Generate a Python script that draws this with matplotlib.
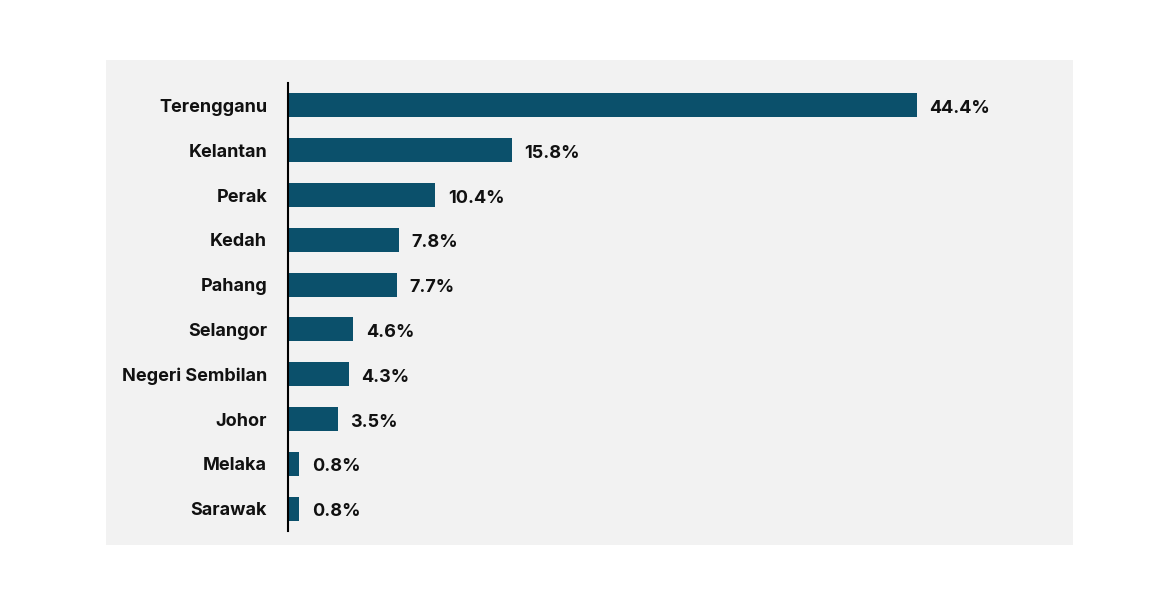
import matplotlib
matplotlib.use("Agg")
import matplotlib.pyplot as plt
from matplotlib.patches import Rectangle

states = ["Terengganu", "Kelantan", "Perak", "Kedah", "Pahang", "Selangor",
          "Negeri Sembilan", "Johor", "Melaka", "Sarawak"]
values = [44.4, 15.8, 10.4, 7.8, 7.7, 4.6, 4.3, 3.5, 0.8, 0.8]

W, H = 1165, 611
fig = plt.figure(figsize=(W / 100, H / 100), dpi=100)
fig.patch.set_facecolor("white")
fig.patches.append(Rectangle((106 / W, (H - 545) / H), (1073 - 106) / W, 485 / H,
                             transform=fig.transFigure, facecolor="#F2F2F2",
                             edgecolor="none", zorder=-10))

px_per_unit = (917 - 288) / 44.4
xmax = 50
left, top, bottom = 288, 83, 531
ax = fig.add_axes([left / W, (H - bottom) / H, xmax * px_per_unit / W, (bottom - top) / H])
ax.set_facecolor("none")
ax.set_zorder(5)

ypos = list(range(len(states)))
ax.barh(ypos, values, height=0.54, color="#0B506B", zorder=2)
ax.set_ylim(len(states) - 0.5, -0.5)
ax.set_xlim(0, xmax)

for y, v in zip(ypos, values):
    ax.annotate(f"{v:.1f}%", (v, y), xytext=(9, -2.2), textcoords="offset points",
                ha="left", va="center", fontsize=13, fontweight="bold",
                family="Inter", color="#111111")

ax.set_yticks(ypos)
ax.set_yticklabels(states, fontsize=13, fontweight="bold", family="Inter", color="#111111")
ax.tick_params(axis="y", length=0, pad=15)
ax.set_xticks([])
for s in ["top", "right", "bottom"]:
    ax.spines[s].set_visible(False)
ax.spines["left"].set_color("black")
ax.spines["left"].set_linewidth(1.5)

fig.savefig("out.png", dpi=100)
